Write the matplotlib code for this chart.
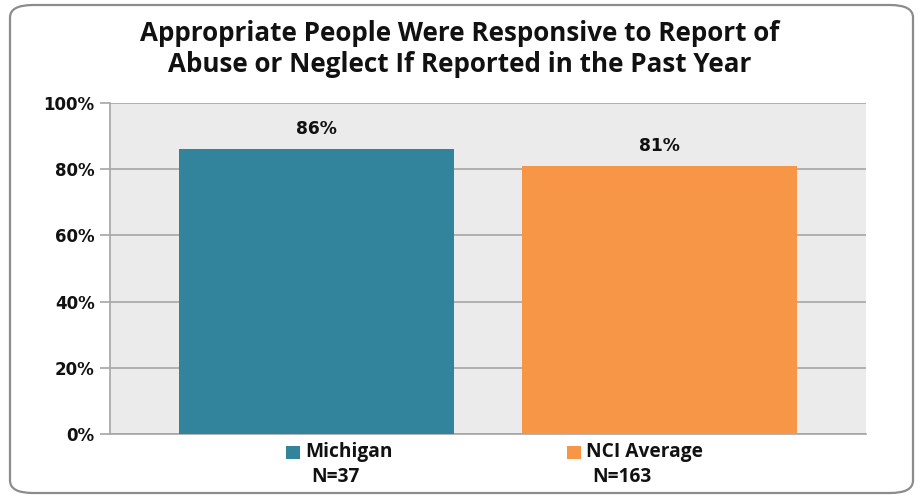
import matplotlib.pyplot as plt
from matplotlib.patches import FancyBboxPatch, Rectangle

# data
series = ['Michigan', 'NCI Average']
sizes = ['N=37', 'N=163']
values = [86, 81]
colors = ['#31849B', '#F79646']
yticks = [0, 20, 40, 60, 80, 100]

W, H = 921, 498
fig = plt.figure(figsize=(W / 100, H / 100), dpi=100)
fig.patch.set_facecolor('white')

# rounded outer border
border = FancyBboxPatch((10 / W, 5 / H), 903 / W, 488 / H,
                        boxstyle='round,pad=0,rounding_size=0.025',
                        transform=fig.transFigure, facecolor='white',
                        edgecolor='#8C8C8C', linewidth=1.6, zorder=-5)
fig.patches.append(border)

ax = fig.add_axes([110 / W, (H - 434) / H, 756 / W, 331 / H])
ax.set_zorder(2)
ax.set_facecolor('#EBEBEB')

gap = 0.25
xs = [gap + 0.5 + i * (1 + gap) for i in range(len(values))]
bars = ax.bar(xs, values, width=1.0, color=colors, zorder=3)
ax.set_xlim(0, len(values) + gap * (len(values) + 1))
ax.set_ylim(0, 100)

for x, v in zip(xs, values):
    ax.text(x, v + 3.3, f'{v}%', ha='center', va='bottom', fontsize=12.3,
            fontweight='bold', family='DejaVu Sans', color='#111111')

ax.set_yticks(yticks)
ax.set_yticklabels([f'{t}%' for t in yticks], fontsize=12, fontweight='bold',
                   color='#111111')
ax.yaxis.grid(True, color='#A6A6A6', linewidth=1.2, zorder=1)
ax.tick_params(axis='y', length=7, color='#A6A6A6', pad=4, width=1.2)
ax.set_xticks([])
for s in ['top', 'right']:
    ax.spines[s].set_visible(False)
ax.spines['left'].set_color('#A6A6A6')
ax.spines['bottom'].set_color('#A6A6A6')
ax.spines['left'].set_linewidth(1.2)
ax.spines['bottom'].set_linewidth(1.2)

# title
fig.text(460 / W, 1 - 49 / H,
         'Appropriate People Were Responsive to Report of\nAbuse or Neglect If Reported in the Past Year',
         ha='center', va='center', fontsize=18.7, fontweight='bold',
         family='Open Sans', linespacing=1.2, color='#111111')

# legend below the plot
leg_x = [286, 567]
for lx, name, n, c in zip(leg_x, series, sizes, colors):
    fig.patches.append(Rectangle((lx / W, 1 - 459 / H), 14 / W, 13 / H,
                                 transform=fig.transFigure, facecolor=c,
                                 edgecolor='none'))
    fig.text((lx + 19) / W, 1 - 452 / H, name, ha='left', va='center',
             fontsize=13.8, fontweight='bold', family='Open Sans', color='#111111')
    fig.text((lx + 25) / W, 1 - 477 / H, n, ha='left', va='center',
             fontsize=13.8, fontweight='bold', family='Open Sans', color='#111111')

fig.savefig('out.png', dpi=100)
